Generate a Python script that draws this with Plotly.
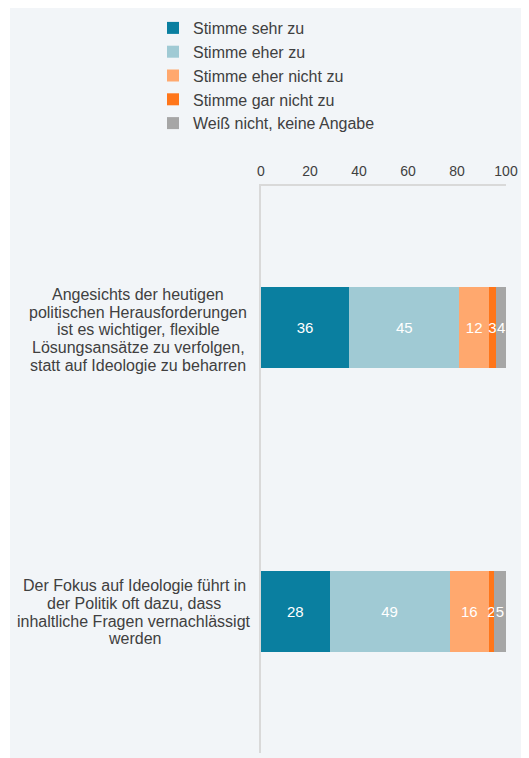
import plotly.graph_objects as go

categories = [
    "Angesichts der heutigen politischen Herausforderungen ist es wichtiger, flexible Lösungsansätze zu verfolgen, statt auf Ideologie zu beharren",
    "Der Fokus auf Ideologie führt in der Politik oft dazu, dass inhaltliche Fragen vernachlässigt werden",
]
category_lines = [
    ["Angesichts der heutigen", "politischen Herausforderungen", "ist es wichtiger, flexible",
     "Lösungsansätze zu verfolgen,", "statt auf Ideologie zu beharren"],
    ["Der Fokus auf Ideologie führt in", "der Politik oft dazu, dass",
     "inhaltliche Fragen vernachlässigt", "werden"],
]
series_names = ["Stimme sehr zu", "Stimme eher zu", "Stimme eher nicht zu",
                "Stimme gar nicht zu", "Weiß nicht, keine Angabe"]
series_values = [
    [36, 28],
    [45, 49],
    [12, 16],
    [3, 2],
    [4, 5],
]
colors = ["#0A7FA0", "#A0CAD4", "#FFA86E", "#FF761A", "#A6A6A6"]
tick_vals = [0, 20, 40, 60, 80, 100]

OFF = 8  # page offset of the figure (body margin)
W, H = 529, 758
L, T = 261 - OFF, 186 - OFF
pw = 245
ph = 567
R = W - L - pw
B = H - T - ph

def px2x(page_px):
    return (page_px - OFF - L) / pw

def py2y(page_py):
    return (T + ph - (page_py - OFF)) / ph

fig = go.Figure()
for name, vals, col in zip(series_names, series_values, colors):
    fig.add_trace(go.Bar(
        y=categories, x=vals, name=name, orientation="h",
        marker=dict(color=col, line=dict(width=0)),
        text=vals, texttemplate="%{x}", textposition="inside",
        insidetextanchor="middle", textangle=0,
        insidetextfont=dict(color="white", size=15, family="Liberation Sans, Arial"),
    ))

# category labels (centred lines)
centers_px = [138, 134]
extra_shift = [-2, -1]
line_gap = 17.7
for cat, lines, cpx, es in zip(categories, category_lines, centers_px, extra_shift):
    n = len(lines)
    for i, ln in enumerate(lines):
        fig.add_annotation(
            x=px2x(cpx), xref="paper", y=cat, yref="y",
            text=ln, showarrow=False, xanchor="center", yanchor="middle",
            yshift=((n - 1) / 2 - i) * line_gap + es,
            font=dict(size=16, color="#404040", family="Liberation Sans, Arial"),
        )

# thin white strip on the left edge
fig.add_shape(type="rect", xref="paper", yref="paper",
              x0=px2x(0), x1=px2x(10), y0=-1, y1=2,
              fillcolor="white", line=dict(width=0), layer="below")

fig.update_layout(
    width=W, height=H,
    margin=dict(l=L, r=R, t=T, b=B, pad=0, autoexpand=False),
    paper_bgcolor="#F2F5F8", plot_bgcolor="rgba(0,0,0,0)",
    barmode="stack", bargap=0.714,
    font=dict(family="Liberation Sans, Arial", color="#404040"),
    uniformtext=dict(mode="show", minsize=15),
    showlegend=True,
    legend=dict(
        x=px2x(153), y=py2y(11), xanchor="left", yanchor="top",
        traceorder="normal", bgcolor="rgba(0,0,0,0)",
        font=dict(size=16, color="#404040", family="Liberation Sans, Arial"),
        itemwidth=30,
    ),
    xaxis=dict(
        side="top", range=[0, 100], tickvals=tick_vals, ticks="",
        showgrid=False, zeroline=False, showline=True, linecolor="#D9D9D9",
        linewidth=2, tickfont=dict(size=14, color="#404040"),
        ticklabelstandoff=2, fixedrange=True, automargin=False,
    ),
    yaxis=dict(
        autorange="reversed", showticklabels=False, ticks="", showgrid=False,
        zeroline=False, showline=True, linecolor="#D9D9D9", linewidth=2,
        automargin=False,
    ),
)

fig.write_html("out.html")
